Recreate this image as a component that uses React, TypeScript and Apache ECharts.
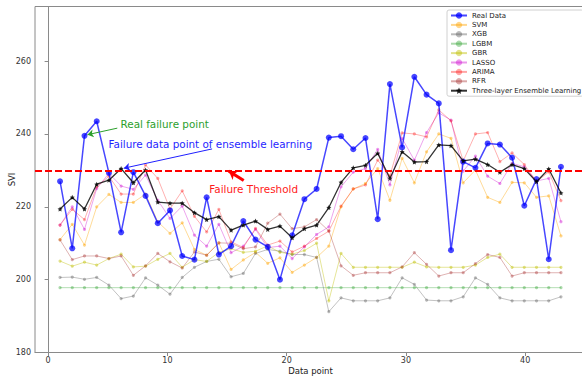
import React, { useEffect, useRef } from "react";
import * as echarts from "echarts";

const realData = [227, 208.6, 239.5, 243.5, 229.3, 213, 229.5, 223, 215.5, 219, 206.5, 205.5, 222.6, 206.9, 209.2, 216.1, 211, 209, 200, 212.2, 222.1, 224.9, 239, 239.4, 235.8, 238.9, 216.6, 253.7, 236.3, 255.7, 250.8, 248.4, 208.1, 232.4, 230.7, 237.4, 237.1, 233.5, 220.3, 227.6, 205.6, 231];
const svm = [211, 215.2, 209.5, 220, 223.4, 221.2, 221.2, 223.5, 215.9, 212.7, 215.6, 208.3, 206.7, 210.1, 202.8, 205.4, 207.5, 204.5, 206, 202, 204, 206.1, 209.2, 220, 224.9, 226.4, 230.5, 221.8, 233.3, 226.6, 235.1, 240, 238.8, 226.6, 230.1, 222.6, 221.2, 226.7, 226.6, 222.6, 223, 212];
const xgb = [200.6, 200.7, 200.1, 200.6, 198.5, 194.8, 195.5, 200.5, 198.5, 196, 200.6, 203.4, 205, 205.6, 200.8, 201.7, 207.2, 208.3, 207.8, 206.9, 206.9, 206.1, 191.2, 195, 194.2, 194.2, 194.2, 195, 200.5, 198.7, 194.4, 194.2, 194.2, 195.3, 200.5, 198.7, 195, 194.2, 194.2, 194.2, 194.2, 195.3];
const lgbm = [197.8, 197.8, 197.8, 197.8, 197.8, 197.8, 197.8, 197.8, 197.8, 197.8, 197.8, 197.8, 197.8, 197.8, 197.8, 197.8, 197.8, 197.8, 197.8, 197.8, 197.8, 197.8, 197.8, 197.8, 197.8, 197.8, 197.8, 197.8, 197.8, 197.8, 197.8, 197.8, 197.8, 197.8, 197.8, 197.8, 197.8, 197.8, 197.8, 197.8, 197.8, 197.8];
const gbr = [205.1, 203.7, 204.8, 204, 205.8, 207, 203.5, 203.7, 205.6, 207.2, 203.4, 205.5, 205, 207.5, 208.5, 207.5, 207.8, 209.3, 207.5, 207, 208, 210, 194.2, 207.2, 203.4, 203.4, 203.4, 203.4, 203.4, 204.8, 203.5, 203.4, 203.4, 203.4, 204, 206.1, 207, 203.4, 203.4, 203.4, 203.4, 203.4];
const lasso = [215, 220, 213.8, 225, 229.2, 225.7, 224.8, 228.7, 221.8, 216.8, 220.2, 212.2, 209.2, 215.2, 207.4, 209.2, 213.8, 208.8, 209.2, 205.8, 209, 212.4, 214.5, 225.5, 229.5, 230.5, 235.8, 226, 238.8, 232.8, 240.4, 245.8, 243.8, 229.8, 233.9, 228.4, 226.4, 231.9, 231, 227.1, 227.8, 215.9];
const arima = [215, 219.3, 216.5, 225.5, 228.4, 223.5, 223.5, 231.5, 227.8, 219.4, 224.4, 217.4, 213.1, 219.3, 210.4, 208.8, 214.1, 209.5, 210.6, 207.6, 209.2, 211.3, 213.3, 220.2, 224.9, 226, 232.8, 228.5, 240.3, 240, 239.2, 246.6, 243.6, 232.6, 240, 240.4, 232.4, 234.8, 231.6, 226.9, 229.6, 221.7];
const rfr = [210.9, 205.5, 206.5, 206.5, 205.8, 206.5, 201.2, 203.8, 207.2, 204.9, 203.2, 207.6, 206.7, 210.1, 210, 208.5, 209, 215.5, 218, 214, 214.5, 216.5, 213.4, 203.8, 201.2, 201.9, 201.9, 201.9, 203.5, 207.4, 204.2, 201, 201.9, 201.9, 204.4, 206.9, 206.1, 201, 201.9, 201.9, 201.9, 201.9];
const ensemble = [219.4, 222.6, 219.4, 226.2, 227.3, 230.5, 226.6, 230.1, 221.3, 221, 221, 218.4, 216.5, 217.3, 213.6, 215, 216.1, 213.8, 214.7, 211.5, 214, 215, 219.8, 226.7, 230.7, 231.4, 234.7, 227.8, 235.1, 232.3, 232.4, 237, 236.8, 232.6, 233.1, 231.6, 229.5, 231.6, 230.5, 226.9, 230.4, 223.8];

const seriesNames = ["Real Data", "SVM", "XGB", "LGBM", "GBR", "LASSO", "ARIMA", "RFR", "Three-layer Ensemble Learning"];
const xTicks = [0, 10, 20, 30, 40];
const yTicks = [180, 200, 220, 240, 260];
const threshold = 230;

const FONT = "DejaVu Sans";
const STAR = "path://M0,-10L2.9,-4L9.5,-3.1L4.7,1.5L5.9,8.1L0,5L-5.9,8.1L-4.7,1.5L-9.5,-3.1L-2.9,-4Z";

export default function App() {
  const ref = useRef<HTMLDivElement>(null);
  useEffect(() => {
    document.body.style.margin = "0";
    const chart = echarts.init(ref.current!, null, { renderer: "svg" });
    const xs = realData.map((_, i) => 1 + (i * 42) / 41);
    const pts = (vals: number[]) => vals.map((v, i) => [xs[i], v]);

    const thin = (name: string, vals: number[], color: string, opacity: number) => ({
      name,
      type: "line",
      data: pts(vals),
      symbol: "circle",
      symbolSize: 3.2,
      lineStyle: { color, width: 0.9, opacity },
      itemStyle: { color, opacity },
      silent: true,
      z: 2,
    });

    const arrow = (from: number[], to: number[], color: string, width: number, size: number) => ({
      type: "line",
      data: [],
      silent: true,
      z: 5,
      markLine: {
        silent: true,
        symbol: ["none", "arrow"],
        symbolSize: size,
        label: { show: false },
        lineStyle: { color, width, type: "solid" },
        data: [[{ coord: from }, { coord: to }]],
      },
    });

    const option = {
      animation: false,
      textStyle: { fontFamily: FONT },
      grid: {
        left: 35,
        top: 6.5,
        width: 551,
        height: 346,
        containLabel: false,
        outerBoundsMode: "none",
        show: true,
        borderColor: "#8a8a8a",
        borderWidth: 1,
        backgroundColor: "transparent",
      },
      legend: {
        data: seriesNames,
        orient: "vertical",
        left: 447,
        top: 10,
        itemWidth: 16,
        itemHeight: 8,
        itemGap: 2.4,
        padding: [2, 2, 2, 3],
        backgroundColor: "rgba(255,255,255,0.85)",
        borderColor: "#d0d0d0",
        borderWidth: 1,
        borderRadius: 2,
        textStyle: { fontSize: 7, color: "#222", fontFamily: FONT },
        selectedMode: false,
      },
      xAxis: {
        type: "value",
        min: -1.1,
        max: 45.1,
        name: "Data point",
        nameLocation: "middle",
        nameGap: 14,
        nameMoveOverlap: false,
        nameTextStyle: { fontSize: 8.5, color: "#222", fontFamily: FONT },
        axisLine: { show: true, lineStyle: { color: "#8a8a8a", width: 1 } },
        axisTick: { show: true, customValues: xTicks, length: 3.5, lineStyle: { color: "#8a8a8a" } },
        axisLabel: { customValues: xTicks, fontSize: 8, color: "#333", margin: 4, fontFamily: FONT },
        splitLine: { show: false },
      },
      yAxis: {
        type: "value",
        min: 180,
        max: 275,
        name: "SVI",
        nameLocation: "middle",
        nameGap: 19,
        nameMoveOverlap: false,
        nameTextStyle: { fontSize: 8.5, color: "#222", fontFamily: FONT },
        axisLine: { show: true, lineStyle: { color: "#8a8a8a", width: 1 } },
        axisTick: { show: true, customValues: yTicks, length: 3.5, lineStyle: { color: "#8a8a8a" } },
        axisLabel: { customValues: yTicks, fontSize: 8, color: "#333", margin: 4, fontFamily: FONT },
        splitLine: { show: false },
      },
      series: [
        {
          name: "Real Data",
          type: "line",
          data: pts(realData),
          symbol: "circle",
          symbolSize: 6,
          lineStyle: { color: "#0000ff", width: 1.5, opacity: 0.72 },
          itemStyle: { color: "#0000ff", opacity: 0.72 },
          silent: true,
          z: 3,
        },
        thin("SVM", svm, "#ffa500", 0.45),
        thin("XGB", xgb, "#555555", 0.4),
        thin("LGBM", lgbm, "#2ca02c", 0.4),
        thin("GBR", gbr, "#bfbf00", 0.45),
        thin("LASSO", lasso, "#cc00cc", 0.4),
        thin("ARIMA", arima, "#ff0000", 0.35),
        thin("RFR", rfr, "#a52a2a", 0.4),
        {
          name: "Three-layer Ensemble Learning",
          type: "line",
          data: pts(ensemble),
          symbol: STAR,
          symbolSize: 5,
          lineStyle: { color: "#000000", width: 1.3, opacity: 0.8 },
          itemStyle: { color: "#000000", opacity: 0.8 },
          silent: true,
          z: 4,
        },
        {
          type: "line",
          data: [],
          silent: true,
          z: 5,
          markLine: {
            silent: true,
            symbol: ["none", "none"],
            label: { show: false },
            lineStyle: { color: "#ff0000", width: 2, type: [7, 3] },
            data: [{ yAxis: threshold }],
          },
        },
        arrow([5.8, 241.6], [3.3, 239.8], "#2ca02c", 1, 6),
        arrow([13.75, 235.9], [6.35, 230.6], "#1f1fff", 1, 6),
        arrow([16.4, 227.2], [15.15, 229.8], "#ff0000", 3, 8),
      ],
      graphic: [
        {
          type: "text",
          x: 120.5,
          y: 123.5,
          silent: true,
          style: { text: "Real failure point", fill: "#2ca02c", fontSize: 10.4, fontFamily: FONT, verticalAlign: "middle", align: "left" },
        },
        {
          type: "text",
          x: 108.5,
          y: 144,
          silent: true,
          style: { text: "Failure data point of ensemble learning", fill: "#1f1fff", fontSize: 10.4, fontFamily: FONT, verticalAlign: "middle", align: "left" },
        },
        {
          type: "text",
          x: 209.3,
          y: 188.5,
          silent: true,
          style: { text: "Failure Threshold", fill: "#ff1a1a", fontSize: 10.4, fontFamily: FONT, verticalAlign: "middle", align: "left" },
        },
      ],
    };

    chart.setOption(option as any);
    return () => chart.dispose();
  }, []);
  return <div ref={ref} style={{ width: 582, height: 378 }} />;
}
